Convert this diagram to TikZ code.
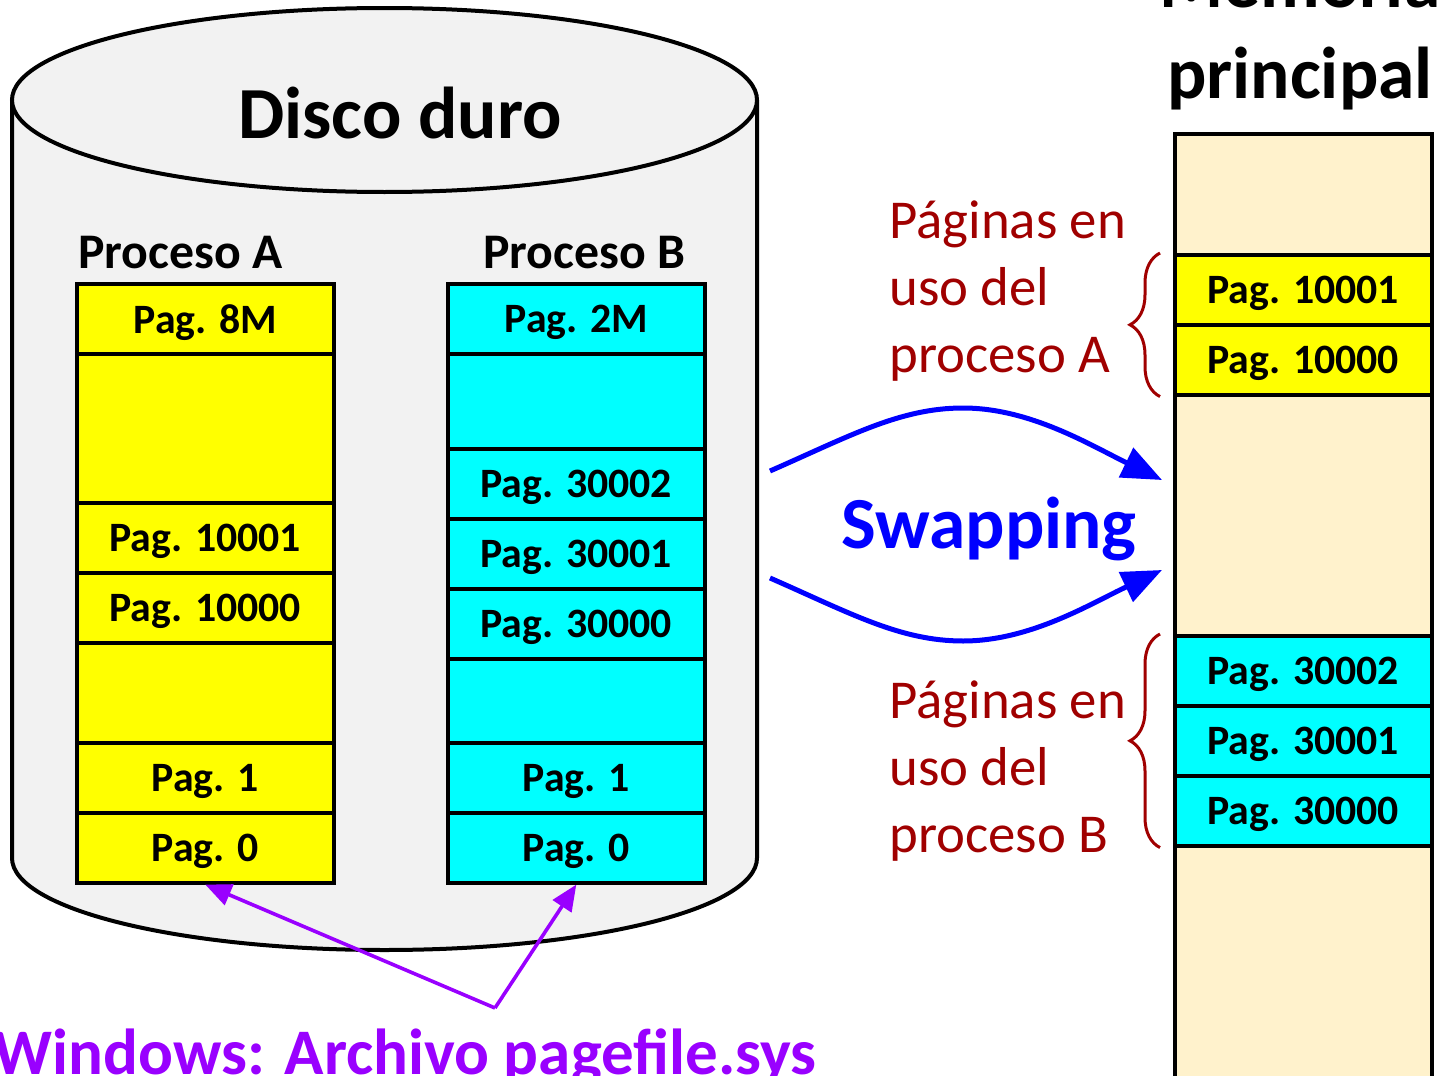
\documentclass[tikz,border=0pt]{standalone}
\usepackage{fontspec}
\setmainfont{Carlito}
\usetikzlibrary{arrows.meta, positioning, decorations.pathreplacing}

\definecolor{diskgray}{HTML}{F2F2F2}
\definecolor{memcream}{HTML}{FFF2CC}
\definecolor{darkred}{HTML}{A00000}
\definecolor{filepurple}{HTML}{9900FF}
\definecolor{pageyellow}{RGB}{255,255,0}
\definecolor{pagecyan}{RGB}{0,255,255}
\definecolor{swapblue}{RGB}{0,0,255}

\begin{document}
\begin{tikzpicture}[
    x=0.5pt, y=-0.5pt,
    cell/.style={draw, line width=1.8pt, minimum width=128.5pt, minimum height=35pt, inner sep=0pt, text depth=0pt, anchor=north west, font=\bfseries\fontsize{20.9}{24}\selectfont},
    cellA/.style={cell, fill=pageyellow},
    cellB/.style={cell, fill=pagecyan},
    cellM/.style={cell, fill=memcream},
    proctitle/.style={font=\bfseries\fontsize{24.9}{30}\selectfont, anchor=base west, inner sep=0pt},
    bigtitle/.style={font=\bfseries\fontsize{36.7}{44}\selectfont, anchor=base, inner sep=0pt},
    usenote/.style={font=\fontsize{27.4}{33.5}\selectfont, text=darkred, align=left, anchor=base west, inner sep=0pt},
    swaparrow/.style={-{Triangle[length=20pt, width=16pt]}, line width=2.5pt, swapblue},
    filearrow/.style={-{Triangle[length=13pt, width=11pt]}, line width=1.8pt, filepurple},
    bracebar/.style={decorate, decoration={brace, amplitude=15pt}, line width=1.5pt, darkred},
]
\useasboundingbox (0,0) rectangle (1442,1076);

% disk
\fill[diskgray] (12,100) -- (12,858) arc[start angle=180, end angle=360, x radius=186.25pt, y radius=46pt]
    -- (757,100) arc[start angle=0, end angle=180, x radius=186.25pt, y radius=46pt] -- cycle;
\draw[line width=2pt] (12,100) -- (12,858) arc[start angle=180, end angle=360, x radius=186.25pt, y radius=46pt] -- (757,100);
\draw[line width=2pt, fill=diskgray] (384.5,100) ellipse[x radius=186.25pt, y radius=46pt];
\node[bigtitle] (disk) at (400,138) {Disco duro};

\node[proctitle] (procA) at (78,268) {Proceso A};
\node[proctitle] (procB) at (483,268) {Proceso B};

% process A
\node[cellA] (a8m) at (75,282) {Pag. 8M};
\node[cellA, minimum height=74.5pt] (agap1) at (75,352) {};
\node[cellA] (a10001) at (75,501) {Pag. 10001};
\node[cellA] (a10000) at (75,571) {Pag. 10000};
\node[cellA, minimum height=50pt] (agap2) at (75,641) {};
\node[cellA] (a1) at (75,741) {Pag. 1};
\node[cellA] (a0) at (75,811) {Pag. 0};

% process B
\node[cellB] (b2m) at (446,282) {Pag. 2M};
\node[cellB, minimum height=47.5pt] (bgap1) at (446,352) {};
\node[cellB] (b30002) at (446,447) {Pag. 30002};
\node[cellB] (b30001) at (446,517) {Pag. 30001};
\node[cellB] (b30000) at (446,587) {Pag. 30000};
\node[cellB, minimum height=42pt] (bgap2) at (446,657) {};
\node[cellB] (b1) at (446,741) {Pag. 1};
\node[cellB] (b0) at (446,811) {Pag. 0};

% main memory
\node[bigtitle] (memtitle) at (1300,8) {Memoria};
\node[bigtitle] (memtitle2) at (1300,98) {principal};
\node[cellM, minimum height=60.5pt] (mtop) at (1173,132) {};
\node[cellA] (m10001) at (1173,253) {Pag. 10001};
\node[cellA] (m10000) at (1173,323) {Pag. 10000};
\node[cellM, minimum height=120.5pt] (mmid) at (1173,393) {};
\node[cellB] (m30002) at (1173,634) {Pag. 30002};
\node[cellB] (m30001) at (1173,704) {Pag. 30001};
\node[cellB] (m30000) at (1173,774) {Pag. 30000};
\node[cellM, minimum height=125pt] (mbot) at (1173,844) {};

% braces
\draw[bracebar] ([xshift=-6.5pt]m10000.south west) -- ([xshift=-6.5pt]m10001.north west);
\draw[bracebar] ([xshift=-6.5pt]m30000.south west) -- ([xshift=-6.5pt]m30002.north west);
\node[usenote] (noteA) at (889,372) {Páginas en\\uso del\\proceso A};
\node[usenote] (noteB) at (889,852) {Páginas en\\uso del\\proceso B};

% swapping
\node[bigtitle, text=swapblue] (swapping) at (989,548) {Swapping};
\coordinate (swA1) at (770,471);
\coordinate (swA2) at (1162,480);
\coordinate (swB1) at (770,578);
\coordinate (swB2) at (1162,570);
\draw[swaparrow] (swA1) .. controls (850,436) and (900,408) .. (963,408) .. controls (1030,408) and (1090,445) .. (swA2);
\draw[swaparrow] (swB1) .. controls (850,613) and (900,641) .. (963,641) .. controls (1030,641) and (1090,604) .. (swB2);

% pagefile
\coordinate (fork) at (495,1008);
\draw[filearrow] (fork) -- (a0.south);
\draw[filearrow] (fork) -- (b0.south);
\node[font=\bfseries\fontsize{32.5}{39}\selectfont, text=filepurple, anchor=base east, inner sep=0pt] (pagefile) at (817,1074) {Windows: Archivo pagefile.sys};

\end{tikzpicture}
\end{document}
